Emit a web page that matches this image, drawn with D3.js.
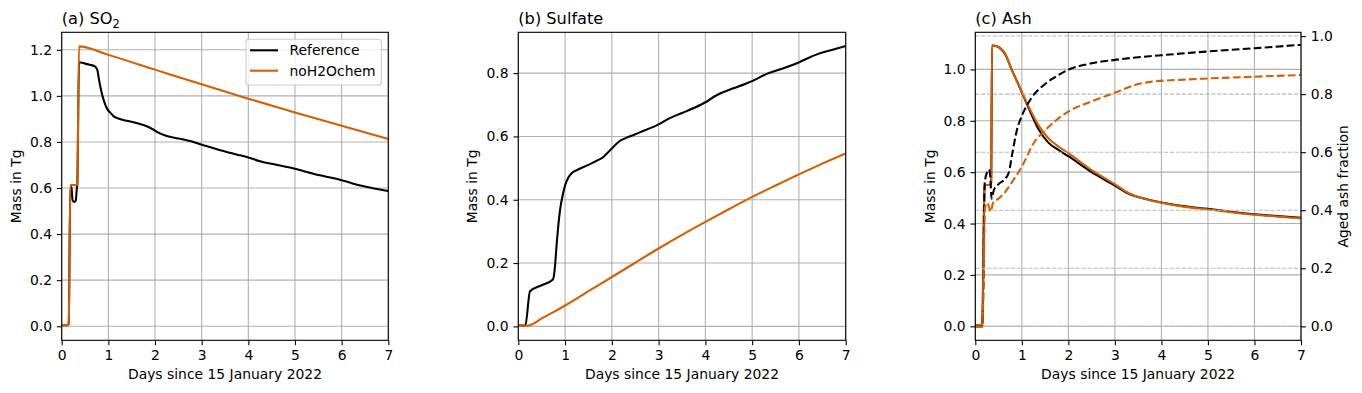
<!DOCTYPE html>
<html lang="en">
<head>
    <meta charset="utf-8">
    <title>SO2, sulfate and ash</title>
    <style type="text/css">
        body { margin: 0; background: #fff; }
        .chart text { font-family: "DejaVu Sans", sans-serif; fill: #000; }
        .chart .tick text { font-size: 13.9px; }
        .chart .tick line { stroke: #000; stroke-width: 1.1; }
        .chart .domain { display: none; }
        .chart .grid line { stroke: #b0b0b0; stroke-width: 1.1; }
        .chart .grid2 line { stroke: #b8b8b8; stroke-width: 1.1; stroke-dasharray: 4.1,1.8; }
        .chart .spine { fill: none; stroke: #000; stroke-width: 1.1; }
        .chart .series { fill: none; stroke-width: 2.08; }
    </style>
</head>
<body>
    <svg class="chart" width="1362" height="393"></svg>

    <script src="https://cdnjs.cloudflare.com/ajax/libs/d3/7.8.5/d3.min.js"></script>
    <script>
        // 数据: [天数, 数值]
        var xTicks = [0, 1, 2, 3, 4, 5, 6, 7];
        var seriesNames = ['Reference', 'noH2Ochem'];
        var colors = ['#000000', '#d55e00'];

        // (a) SO2 质量 (Tg)
        var so2Reference = [[0,0.005],[0.13,0.005],[0.15,0.01],[0.185,0.61],[0.21,0.60],[0.235,0.545],[0.27,0.54],[0.30,0.545],[0.325,0.60],[0.335,0.62],[0.37,1.146],[0.5,1.14],[0.6,1.135],[0.71,1.128],[0.76,1.115],[0.8,1.07],[0.86,1.01],[0.92,0.97],[0.97,0.945],[1.05,0.925],[1.12,0.91],[1.25,0.90],[1.6,0.882],[1.82,0.868],[1.95,0.855],[2.05,0.843],[2.25,0.826],[2.5,0.815],[2.82,0.80],[3.1,0.782],[3.4,0.764],[3.82,0.742],[4.0,0.733],[4.25,0.716],[4.6,0.701],[4.96,0.686],[5.1,0.678],[5.39,0.662],[5.7,0.648],[5.96,0.636],[6.2,0.622],[6.4,0.611],[6.7,0.598],[7.0,0.587]];
        var so2NoH2O = [[0,0.005],[0.13,0.005],[0.15,0.01],[0.185,0.613],[0.32,0.613],[0.335,0.62],[0.37,1.215],[1,1.178],[2,1.114],[3,1.05],[4,0.988],[5,0.928],[6,0.870],[7,0.813]];
        var so2Ticks = [0, 0.2, 0.4, 0.6, 0.8, 1.0, 1.2];

        // (b) 硫酸盐质量 (Tg)
        var sulfateReference = [[0,0.003],[0.15,0.003],[0.25,0.111],[0.5,0.13],[0.74,0.148],[0.77,0.17],[0.79,0.20],[0.82,0.26],[0.85,0.31],[0.9,0.375],[0.95,0.415],[1.0,0.445],[1.07,0.47],[1.15,0.485],[1.3,0.497],[1.5,0.51],[1.7,0.525],[1.82,0.535],[1.9,0.547],[2.0,0.562],[2.1,0.577],[2.2,0.588],[2.35,0.598],[2.5,0.607],[2.75,0.622],[3.0,0.638],[3.15,0.651],[3.3,0.662],[3.6,0.680],[3.9,0.700],[4.05,0.712],[4.2,0.727],[4.35,0.738],[4.6,0.752],[4.9,0.769],[5.1,0.782],[5.3,0.797],[5.6,0.812],[5.98,0.833],[6.2,0.848],[6.4,0.860],[6.7,0.873],[7.0,0.886]];
        var sulfateNoH2O = [[0,0.002],[0.2,0.002],[0.34,0.01],[0.5,0.025],[0.75,0.045],[1.0,0.066],[1.5,0.111],[2.0,0.156],[2.5,0.201],[3.0,0.246],[3.5,0.289],[4.0,0.330],[4.5,0.370],[5.0,0.409],[5.5,0.445],[6.0,0.480],[6.5,0.514],[7.0,0.546]];
        var sulfateTicks = [0, 0.2, 0.4, 0.6, 0.8];

        // (c) 火山灰质量 (Tg) 和老化比例
        var ashReference = [[0,0.005],[0.14,0.005],[0.15,0.01],[0.2,0.55],[0.32,0.55],[0.34,0.56],[0.36,1.093],[0.46,1.09],[0.55,1.08],[0.64,1.06],[0.78,1.0],[0.93,0.94],[1.14,0.852],[1.35,0.77],[1.57,0.715],[1.8,0.685],[2.0,0.662],[2.5,0.60],[3.0,0.548],[3.3,0.516],[3.6,0.498],[4.0,0.482],[4.5,0.467],[5.0,0.457],[5.5,0.446],[6.0,0.436],[6.5,0.429],[7.0,0.422]];
        var ashNoH2O = [[0,0.005],[0.14,0.005],[0.15,0.01],[0.2,0.55],[0.32,0.55],[0.34,0.56],[0.36,1.093],[0.46,1.09],[0.55,1.08],[0.64,1.062],[0.78,1.0],[0.93,0.94],[1.14,0.858],[1.35,0.785],[1.57,0.732],[1.8,0.698],[2.0,0.674],[2.5,0.608],[3.0,0.553],[3.3,0.518],[3.6,0.498],[4.0,0.481],[4.5,0.465],[5.0,0.455],[5.5,0.444],[6.0,0.434],[6.5,0.427],[7.0,0.42]];
        var agedReference = [[0,0],[0.15,0],[0.17,0.1],[0.2,0.49],[0.25,0.53],[0.29,0.54],[0.32,0.52],[0.35,0.44],[0.40,0.47],[0.5,0.49],[0.65,0.51],[0.72,0.53],[0.8,0.60],[0.9,0.68],[1.0,0.725],[1.2,0.785],[1.5,0.835],[1.7,0.857],[2.0,0.884],[2.4,0.903],[3.0,0.918],[4.0,0.934],[5.0,0.947],[6.0,0.958],[7.0,0.970]];
        var agedNoH2O = [[0,0],[0.15,0],[0.18,0.2],[0.21,0.41],[0.26,0.425],[0.33,0.395],[0.38,0.425],[0.5,0.44],[0.6,0.455],[0.8,0.50],[1.0,0.55],[1.25,0.63],[1.5,0.675],[1.7,0.705],[2.0,0.74],[2.5,0.775],[3.0,0.805],[3.4,0.83],[3.8,0.843],[4.5,0.85],[5.0,0.854],[6.0,0.86],[7.0,0.866]];
        var ashTicks = [0, 0.2, 0.4, 0.6, 0.8, 1.0];
        var agedTicks = [0, 0.2, 0.4, 0.6, 0.8, 1.0];

        var svg = d3.select('.chart'),
            plotTop = 32.3,
            plotBottom = 340.3,
            tickLen = 4.86;

        var panels = [
            {id: 'a', left: 61.7, right: 388.3, yDomain: [-0.061, 1.276], ticks: so2Ticks,
             series: [so2Reference, so2NoH2O], ylabelX: 20.5, legend: true},
            {id: 'b', left: 518.3, right: 845.7, yDomain: [-0.044, 0.929], ticks: sulfateTicks,
             series: [sulfateReference, sulfateNoH2O], ylabelX: 477},
            {id: 'c', left: 975.3, right: 1301, yDomain: [-0.0545, 1.1445], ticks: ashTicks,
             series: [ashReference, ashNoH2O], ylabelX: 935,
             y2Domain: [-0.048, 1.013], ticks2: agedTicks, series2: [agedReference, agedNoH2O]}
        ];

        panels.forEach(function(p) {
            var x = d3.scaleLinear().domain([0, 7]).range([p.left, p.right]);
            var y = d3.scaleLinear().domain(p.yDomain).range([plotBottom, plotTop]);
            var g = svg.append('g').attr('class', 'panel-' + p.id);

            g.append('clipPath').attr('id', 'clip-' + p.id)
                .append('rect')
                .attr('x', p.left).attr('y', plotTop)
                .attr('width', p.right - p.left).attr('height', plotBottom - plotTop);

            // 网格
            var grid = g.append('g').attr('class', 'grid');
            grid.selectAll('.gx').data(xTicks).enter().append('line')
                .attr('x1', d => x(d)).attr('x2', d => x(d))
                .attr('y1', plotTop).attr('y2', plotBottom);
            grid.selectAll('.gy').data(p.ticks).enter().append('line')
                .attr('x1', p.left).attr('x2', p.right)
                .attr('y1', d => y(d)).attr('y2', d => y(d));

            var line = d3.line()
                .x(d => x(d[0]))
                .y(d => y(d[1]))
                .curve(d3.curveMonotoneX);

            var plot = g.append('g').attr('clip-path', 'url(#clip-' + p.id + ')');
            p.series.forEach(function(s, i) {
                plot.append('path')
                    .attr('class', 'series')
                    .attr('stroke', colors[i])
                    .attr('d', line(s));
            });

            // 坐标轴
            g.append('g')
                .attr('transform', 'translate(0,' + plotBottom + ')')
                .call(d3.axisBottom(x).tickValues(xTicks).tickFormat(d3.format('d'))
                    .tickSize(tickLen).tickPadding(tickLen));
            g.append('g')
                .attr('transform', 'translate(' + p.left + ',0)')
                .call(d3.axisLeft(y).tickValues(p.ticks).tickFormat(d3.format('.1f'))
                    .tickSize(tickLen).tickPadding(tickLen));

            // 右轴: 老化比例
            if (p.series2) {
                var y2 = d3.scaleLinear().domain(p.y2Domain).range([plotBottom, plotTop]);
                var line2 = d3.line()
                    .x(d => x(d[0]))
                    .y(d => y2(d[1]))
                    .curve(d3.curveMonotoneX);
                var grid2 = g.append('g').attr('class', 'grid2');
                grid2.selectAll('line').data(p.ticks2).enter().append('line')
                    .attr('x1', p.left).attr('x2', p.right)
                    .attr('y1', d => y2(d)).attr('y2', d => y2(d));
                var plot2 = g.append('g').attr('clip-path', 'url(#clip-' + p.id + ')');
                p.series2.forEach(function(s, i) {
                    plot2.append('path')
                        .attr('class', 'series')
                        .attr('stroke', colors[i])
                        .attr('stroke-dasharray', '7.7,3.3')
                        .attr('d', line2(s));
                });
                g.append('g')
                    .attr('transform', 'translate(' + p.right + ',0)')
                    .call(d3.axisRight(y2).tickValues(p.ticks2).tickFormat(d3.format('.1f'))
                        .tickSize(tickLen).tickPadding(tickLen));
                g.append('text')
                    .attr('transform', 'translate(1348,' + ((plotTop + plotBottom) / 2) + ') rotate(-90)')
                    .attr('text-anchor', 'middle')
                    .style('font-size', '13.9px')
                    .text('Aged ash fraction');
            }

            g.append('rect').attr('class', 'spine')
                .attr('x', p.left).attr('y', plotTop)
                .attr('width', p.right - p.left).attr('height', plotBottom - plotTop);

            // 标签
            g.append('text')
                .attr('x', (p.left + p.right) / 2).attr('y', 379)
                .attr('text-anchor', 'middle')
                .style('font-size', '13.9px')
                .text('Days since 15 January 2022');
            g.append('text')
                .attr('transform', 'translate(' + p.ylabelX + ',' + ((plotTop + plotBottom) / 2) + ') rotate(-90)')
                .attr('text-anchor', 'middle')
                .style('font-size', '13.9px')
                .text('Mass in Tg');

            var title = g.append('text')
                .attr('x', p.left).attr('y', 24)
                .style('font-size', '16.2px');
            if (p.id === 'a') {
                title.append('tspan').text('(a) SO');
                title.append('tspan').attr('dy', 3.5).style('font-size', '11.5px').text('2');
            } else if (p.id === 'b') {
                title.text('(b) Sulfate');
            } else {
                title.text('(c) Ash');
            }

            // 图例
            if (p.legend) {
                var lg = g.append('g').attr('class', 'legend');
                lg.append('rect')
                    .attr('x', 246).attr('y', 39.3)
                    .attr('width', 135.3).attr('height', 45.7)
                    .attr('rx', 2.8)
                    .attr('fill', 'rgba(255,255,255,0.8)')
                    .attr('stroke', '#cccccc').attr('stroke-width', 1.1);
                seriesNames.forEach(function(name, i) {
                    var ly = 50.3 + i * 20.4;
                    lg.append('line')
                        .attr('x1', 250).attr('x2', 278)
                        .attr('y1', ly).attr('y2', ly)
                        .attr('stroke', colors[i]).attr('stroke-width', 2.08);
                    lg.append('text')
                        .attr('x', 289.5).attr('y', ly + 4.9)
                        .style('font-size', '13.9px')
                        .text(name);
                });
            }
        });
    </script>
</body>
</html>
